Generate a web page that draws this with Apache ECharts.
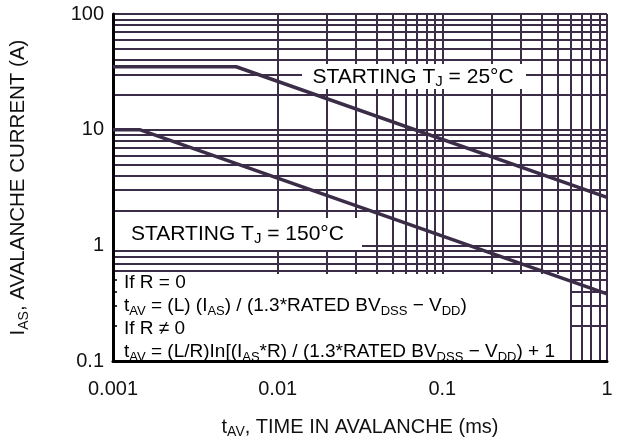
<!DOCTYPE html>
<html>
<head>
<meta charset="utf-8">
<script src="https://cdn.jsdelivr.net/npm/echarts@6/dist/echarts.min.js"></script>
<style>
html, body { margin: 0; padding: 0; background: #fff; }
#avalanche_chart { width: 618px; height: 444px; }
</style>
</head>
<body>
<div id="avalanche_chart"></div>
<script>
// tick labels
const xTicks = [0.001, 0.01, 0.1, 1];
const xTickLabels = ['0.001', '0.01', '0.1', '1'];
const yTicks = [0.1, 1, 10, 100];
const yTickLabels = ['0.1', '1', '10', '100'];
// log grid mantissas (1..9 in every decade)
const gridSteps = [1, 2, 3, 4, 5, 6, 7, 8, 9];

// starting Tj = 25°C : flat, then falls with slope -1/2
const tj25 = [[0.001, 35], [0.0056, 35], [1, 2.6]];
// starting Tj = 150°C
const tj150 = [[0.001, 10], [0.00145, 10], [1, 0.38]];

const lineColor = '#3b2d48';
const font = '"Liberation Sans", Arial, Helvetica, sans-serif';

// grid line values built from the decade ticks
function gridValues(ticks) {
  let out = [];
  for (let i = 0; i < ticks.length - 1; i++) {
    gridSteps.forEach(m => out.push(+(ticks[i] * m).toPrecision(3)));
  }
  out.push(ticks[ticks.length - 1]);
  return out;
}
const xGrid = gridValues(xTicks);
const yGrid = gridValues(yTicks);

function tickLabel(ticks, labels) {
  return v => {
    let i = ticks.findIndex(t => Math.abs(Math.log10(t) - Math.log10(v)) < 1e-6);
    return i >= 0 ? labels[i] : '';
  };
}

function richText(size, sub) {
  return {
    n: { fontSize: size, fontFamily: font, color: '#111', lineHeight: size + 4, verticalAlign: 'middle' },
    s: { fontSize: sub, fontFamily: font, color: '#111', lineHeight: sub, verticalAlign: 'bottom' }
  };
}
const richName = richText(20, 14);
const richYName = richText(20.5, 14);
const richLabel = richText(21, 15);
const richBox = richText(19, 13);

let chart = echarts.init(document.getElementById('avalanche_chart'));

// layers: 0 = grid lines, 1 = white label boxes, 2 = curves, axes and texts
let option = {
  animation: false,
  backgroundColor: '#fff',
  grid: { left: 113, right: 11, top: 14, bottom: 72 },
  xAxis: {
    type: 'log',
    logBase: 10,
    min: 0.001,
    max: 1,
    zlevel: 2,
    axisLine: { show: true, lineStyle: { color: '#000', width: 3 } },
    axisTick: { show: false },
    splitLine: { show: false },
    axisLabel: { fontSize: 20, fontFamily: font, color: '#111', margin: 18, formatter: tickLabel(xTicks, xTickLabels) },
    name: '{n|t}{s|AV}{n|, TIME IN AVALANCHE (ms)}',
    nameLocation: 'middle',
    nameGap: 54,
    nameTextStyle: { rich: richName }
  },
  yAxis: {
    type: 'log',
    logBase: 10,
    min: 0.1,
    max: 100,
    zlevel: 2,
    axisLine: { show: true, lineStyle: { color: '#000', width: 3 } },
    axisTick: { show: false },
    splitLine: { show: false },
    axisLabel: { fontSize: 20, fontFamily: font, color: '#111', margin: 9, formatter: tickLabel(yTicks, yTickLabels) },
    name: '{n|I}{s|AS}{n|, AVALANCHE CURRENT (A)}',
    nameLocation: 'middle',
    nameRotate: 90,
    nameGap: 82,
    nameTextStyle: { rich: richYName }
  },
  graphic: [
    // white label boxes over the grid
    {
      type: 'rect', zlevel: 1, silent: true,
      shape: { x: 302, y: 64, width: 224, height: 25 },
      style: { fill: '#fff' }
    },
    {
      type: 'text', zlevel: 2, silent: true, x: 413, y: 77,
      style: { text: '{n|STARTING T}{s|J}{n| = 25°C}', rich: richLabel, align: 'center', verticalAlign: 'middle' }
    },
    {
      type: 'rect', zlevel: 1, silent: true,
      shape: { x: 115, y: 218, width: 247, height: 32 },
      style: { fill: '#fff' }
    },
    {
      type: 'text', zlevel: 2, silent: true, x: 131, y: 234,
      style: { text: '{n|STARTING T}{s|J}{n| = 150°C}', rich: richLabel, align: 'left', verticalAlign: 'middle' }
    },
    {
      type: 'rect', zlevel: 1, silent: true,
      shape: { x: 117, y: 274, width: 453, height: 95 },
      style: { fill: '#fff' }
    },
    {
      type: 'text', zlevel: 2, silent: true, x: 124, y: 283,
      style: { text: '{n|If R = 0}', rich: richBox, align: 'left', verticalAlign: 'middle' }
    },
    {
      type: 'text', zlevel: 2, silent: true, x: 124, y: 306,
      style: { text: '{n|t}{s|AV}{n| = (L) (I}{s|AS}{n|) / (1.3*RATED BV}{s|DSS}{n| − V}{s|DD}{n|)}', rich: richBox, align: 'left', verticalAlign: 'middle' }
    },
    {
      type: 'text', zlevel: 2, silent: true, x: 124, y: 329,
      style: { text: '{n|If R ≠ 0}', rich: richBox, align: 'left', verticalAlign: 'middle' }
    },
    {
      type: 'text', zlevel: 2, silent: true, x: 124, y: 352,
      style: { text: '{n|t}{s|AV}{n| = (L/R)In[(I}{s|AS}{n|*R) / (1.3*RATED BV}{s|DSS}{n| − V}{s|DD}{n|) + 1}', rich: richBox, align: 'left', verticalAlign: 'middle' }
    }
  ],
  series: [
    // log grid drawn as mark lines
    {
      type: 'line',
      zlevel: 0,
      data: [],
      silent: true,
      markLine: {
        silent: true,
        symbol: 'none',
        label: { show: false },
        lineStyle: { color: lineColor, width: 2, type: 'solid' },
        emphasis: { disabled: true },
        data: xGrid.map(v => ({ xAxis: v })).concat(yGrid.map(v => ({ yAxis: v })))
      }
    },
    {
      name: '25C',
      type: 'line',
      zlevel: 2,
      data: tj25,
      showSymbol: false,
      lineStyle: { color: lineColor, width: 3.5 }
    },
    {
      name: '150C',
      type: 'line',
      zlevel: 2,
      data: tj150,
      showSymbol: false,
      lineStyle: { color: lineColor, width: 3.5 }
    }
  ]
};
chart.setOption(option);
</script>
</body>
</html>
